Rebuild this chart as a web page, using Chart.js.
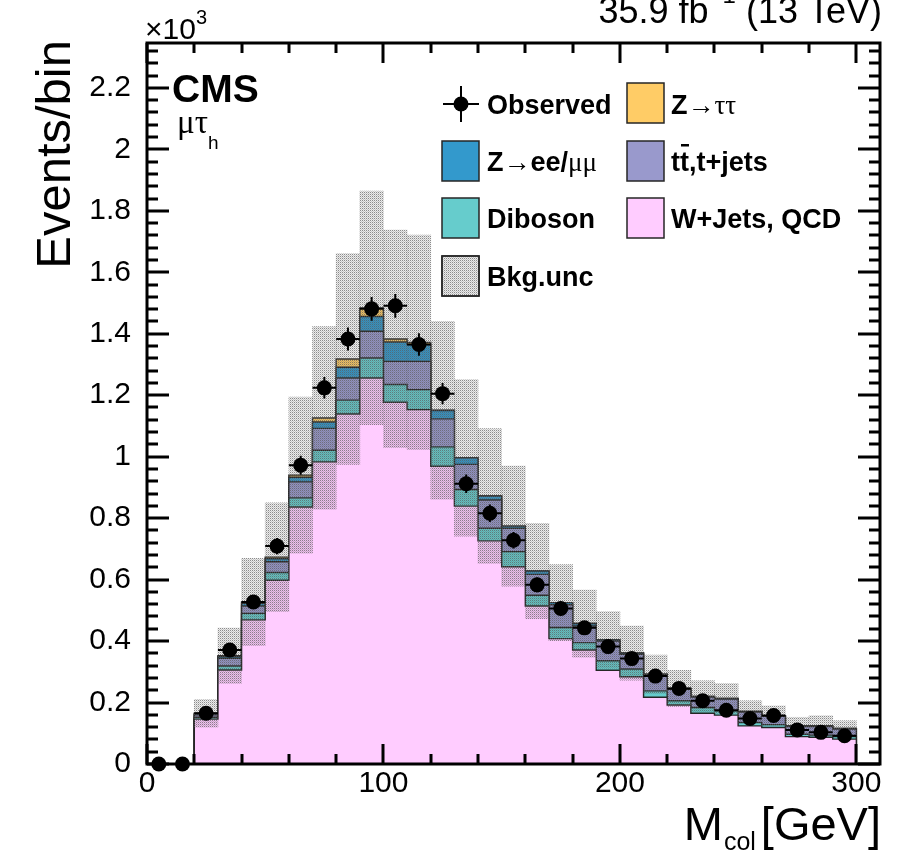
<!DOCTYPE html>
<html>
<head>
<meta charset="utf-8">
<title>M_col mu tau_h</title>
<script src="https://cdn.jsdelivr.net/npm/chart.js@4.4.1/dist/chart.umd.min.js"></script>
<style>
  html, body { margin: 0; padding: 0; background: #fff; }
  #chart { display: block; }
</style>
</head>
<body>
<canvas id="chart" width="911" height="851"></canvas>
<script>
// bins of 10 GeV, values are events per bin
var binWidth = 10;
var binCenters = [5, 15, 25, 35, 45, 55, 65, 75, 85, 95, 105, 115, 125, 135, 145,
                  155, 165, 175, 185, 195, 205, 215, 225, 235, 245, 255, 265, 275, 285, 295];
var observed  = [0, 0, 165, 371, 527, 709, 972, 1224, 1383, 1481, 1491, 1365, 1205, 912, 816,
                 728, 583, 506, 443, 382, 343, 286, 246, 206, 175, 148, 158, 111, 103, 92];
var wjetsQcd  = [0, 0, 146, 306, 469, 598, 836, 983, 1139, 1256, 1177, 1153, 969, 839, 726,
                 642, 514, 408, 371, 305, 284, 217, 192, 165, 159, 124, 119, 89, 87, 81];
var diboson   = [0, 0, 6, 13, 21, 25, 30, 38, 45, 65, 58, 65, 63, 54, 41,
                 49, 35, 36, 24, 31, 25, 21, 14, 19, 14, 11, 9, 8, 7, 8];
var ttbar     = [0, 0, 8, 25, 24, 35, 52, 71, 72, 87, 75, 92, 91, 82, 92,
                 76, 68, 74, 54, 64, 48, 51, 37, 34, 38, 34, 27, 25, 28, 25];
var zll       = [0, 0, 3, 6, 9, 10, 15, 21, 35, 48, 63, 55, 27, 21, 13,
                 7, 11, 7, 8, 4, 4, 3, 3, 2, 2, 2, 2, 2, 2, 2];
var ztautau   = [0, 0, 2, 2, 4, 5, 7, 13, 27, 28, 10, 7, 1, 0, 0,
                 0, 0, 0, 0, 0, 0, 0, 0, 0, 0, 0, 0, 0, 0, 0];
var bkgUnc    = [0, 0, 45, 90, 142, 177, 254, 297, 343, 380, 354, 349, 289, 255, 219,
                 195, 155, 124, 109, 92, 88, 62, 59, 51, 49, 35, 32, 28, 33, 25];
var xTickValues = [0, 100, 200, 300];
var yTickLabels = ['0', '0.2', '0.4', '0.6', '0.8', '1', '1.2', '1.4', '1.6', '1.8', '2', '2.2'];

var xMin = 0, xMax = 310, yMin = 0, yMax = 2346;

var colPink = '#ffccff', colTeal = '#66cccc', colPurple = '#9999cc',
    colBlue = '#3399cc', colOrange = '#ffcc66', lineCol = '#262626';
var sans = "'Liberation Sans', Arial, sans-serif";
var serif = "'Liberation Serif', 'DejaVu Serif', serif";

Chart.defaults.font.family = sans;
Chart.defaults.color = '#000';

var canvas = document.getElementById('chart');
var ctx = canvas.getContext('2d');

// translucent stipple for the uncertainty band
function makeHatch(c) {
    var p = document.createElement('canvas');
    p.width = 2; p.height = 2;
    var g = p.getContext('2d');
    g.fillStyle = 'rgba(90,90,90,0.12)';
    g.fillRect(1, 0, 1, 1);
    g.fillRect(0, 1, 1, 1);
    g.fillStyle = 'rgba(90,90,90,0.7)';
    g.fillRect(0, 0, 1, 1);
    g.fillStyle = 'rgba(90,90,90,0.35)';
    g.fillRect(1, 1, 1, 1);
    return c.createPattern(p, 'repeat');
}
var hatch = makeHatch(ctx);

function addArr(a, b) {
    return a.map(function(v, i) { return v + b[i]; });
}

// cumulative stack, bottom to top
var cum1 = wjetsQcd.slice();
var cum2 = addArr(cum1, diboson);
var cum3 = addArr(cum2, ttbar);
var cum4 = addArr(cum3, zll);
var cum5 = addArr(cum4, ztautau);

// step outline of a histogram (ROOT style), points on bin edges
function stepPoints(vals) {
    var first = -1, last = -1, i, pts = [];
    for (i = 0; i < vals.length; i++) {
        if (vals[i] > 0) { if (first < 0) first = i; last = i; }
    }
    pts.push({x: binCenters[first] - binWidth / 2, y: 0});
    for (i = first; i <= last; i++) {
        pts.push({x: binCenters[i] - binWidth / 2, y: vals[i]});
    }
    pts.push({x: binCenters[last] + binWidth / 2, y: vals[last]});
    pts.push({x: binCenters[last] + binWidth / 2, y: 0});
    return pts;
}

var bandData = [];
binCenters.forEach(function(c, i) {
    if (bkgUnc[i] > 0) bandData.push({x: c, y: [cum5[i] - bkgUnc[i], cum5[i] + bkgUnc[i]]});
});

function stackSet(label, vals, color, order) {
    return {
        type: 'line', label: label, data: stepPoints(vals), stepped: true,
        fill: 'origin', backgroundColor: color, borderColor: lineCol, borderWidth: 1.4,
        pointRadius: 0, pointHoverRadius: 0, tension: 0, order: order
    };
}

// error bars of the data points
var errorBars = {
    id: 'errorBars',
    afterDatasetsDraw: function(chart) {
        var xs = chart.scales.x, ys = chart.scales.y, c = chart.ctx;
        c.save();
        c.strokeStyle = '#000';
        c.lineWidth = 2;
        observed.forEach(function(v, i) {
            var x = xs.getPixelForValue(binCenters[i]);
            var y = ys.getPixelForValue(v);
            c.beginPath();
            c.moveTo(xs.getPixelForValue(binCenters[i] - binWidth / 2), y);
            c.lineTo(xs.getPixelForValue(binCenters[i] + binWidth / 2), y);
            if (v > 0) {
                var e = Math.sqrt(v);
                c.moveTo(x, ys.getPixelForValue(v - e));
                c.lineTo(x, ys.getPixelForValue(v + e));
            }
            c.stroke();
        });
        c.restore();
    }
};

// frame with inward ticks on all four sides
var frame = {
    id: 'frame',
    afterDraw: function(chart) {
        var a = chart.chartArea, xs = chart.scales.x, ys = chart.scales.y, c = chart.ctx, v, p, len;
        c.save();
        c.strokeStyle = '#000';
        c.lineWidth = 3;
        c.beginPath();
        for (v = 0; v <= yMax; v += 40) {
            p = Math.round(ys.getPixelForValue(v));
            len = (v % 200 === 0) ? 22 : 11;
            c.moveTo(a.left, p); c.lineTo(a.left + len, p);
            c.moveTo(a.right, p); c.lineTo(a.right - len, p);
        }
        for (v = 0; v <= xMax; v += 20) {
            p = Math.round(xs.getPixelForValue(v));
            len = (v % 100 === 0) ? 20 : 10;
            c.moveTo(p, a.bottom); c.lineTo(p, a.bottom - len);
            c.moveTo(p, a.top); c.lineTo(p, a.top + len);
        }
        c.stroke();
        c.strokeRect(a.left, a.top, a.right - a.left, a.bottom - a.top);
        c.restore();
    }
};

// draws pieces of text one after another: [text, font, dy]
function richText(c, x, y, parts) {
    parts.forEach(function(pt) {
        c.font = pt[1];
        c.fillText(pt[0], x, y + (pt[2] || 0));
        x += c.measureText(pt[0]).width;
    });
    return x;
}

var labels = {
    id: 'labels',
    afterDraw: function(chart) {
        var c = chart.ctx;
        c.save();
        c.fillStyle = '#000';
        c.textBaseline = 'alphabetic';
        c.textAlign = 'left';

        // top right lumi text, partly cut by the page edge
        c.font = '36px ' + sans;
        var w1 = c.measureText('35.9 fb').width;
        var w3 = c.measureText(' (13 TeV)').width;
        c.font = '24px ' + sans;
        var w2 = c.measureText('\u22121').width;
        richText(c, 882 - w1 - w2 - w3, 23, [
            ['35.9 fb', '36px ' + sans],
            ['\u22121', '24px ' + sans, -20],
            [' (13 TeV)', '36px ' + sans]
        ]);

        // exponent of the y axis
        richText(c, 145, 39, [['\u00d710', '30px ' + sans], ['3', '20px ' + sans, -15]]);

        // CMS label
        c.font = 'bold 39px ' + sans;
        c.fillText('CMS', 172, 102);
        richText(c, 177, 133, [['\u03bc\u03c4', '33px ' + serif], ['h', '19px ' + sans, 16]]);

        // y axis title
        c.save();
        c.translate(70, 40);
        c.rotate(-Math.PI / 2);
        c.textAlign = 'right';
        c.font = '49px ' + sans;
        c.fillText('Events/bin', 0, 0);
        c.restore();

        // x axis title
        c.font = '47px ' + sans;
        var gevW = c.measureText('[GeV]').width;
        var mW = c.measureText('M').width;
        c.font = '25px ' + sans;
        var colW = c.measureText('col').width;
        var gx = 881 - gevW;
        c.font = '47px ' + sans;
        c.fillText('[GeV]', gx, 840);
        c.fillText('M', gx - 6 - colW - mW, 840);
        c.font = '25px ' + sans;
        c.fillText('col', gx - 5 - colW, 850);

        // legend
        var bold = 'bold 27px ' + sans, sym = '27px ' + serif;
        c.strokeStyle = lineCol;
        c.lineWidth = 1.5;
        function box(x, y, fill) {
            c.fillStyle = fill;
            c.fillRect(x, y - 20, 37, 40);
            c.strokeRect(x, y - 20, 37, 40);
            c.fillStyle = '#000';
        }
        // observed marker
        c.strokeStyle = '#000';
        c.lineWidth = 2;
        c.beginPath();
        c.moveTo(443, 104); c.lineTo(479, 104);
        c.moveTo(461, 86); c.lineTo(461, 122);
        c.stroke();
        c.beginPath();
        c.arc(461, 104, 7.5, 0, Math.PI * 2);
        c.fill();
        c.strokeStyle = lineCol;
        c.lineWidth = 1.5;
        richText(c, 487, 114, [['Observed', bold]]);

        box(442, 161, colBlue);
        richText(c, 487, 171, [['Z', bold], ['\u2192', sym], ['ee/', bold], ['\u03bc\u03bc', sym]]);
        box(442, 218, colTeal);
        richText(c, 487, 228, [['Diboson', bold]]);
        box(442, 276, '#fff');
        box(442, 276, hatch);
        richText(c, 487, 286, [['Bkg.unc', bold]]);

        box(627, 103, colOrange);
        richText(c, 671, 114, [['Z', bold], ['\u2192\u03c4\u03c4', sym]]);
        box(627, 161, colPurple);
        c.font = bold;
        var tW = c.measureText('t').width;
        richText(c, 671, 171, [['tt,t+jets', bold]]);
        c.fillRect(671 + tW + 1, 144, tW - 1, 2.5);
        box(627, 218, colPink);
        richText(c, 671, 228, [['W+Jets, QCD', bold]]);

        c.restore();
    }
};

var chart = new Chart(ctx, {
    type: 'bar',
    data: {
        datasets: [
            {
                type: 'line', label: 'Observed',
                data: observed.map(function(v, i) { return {x: binCenters[i], y: v}; }),
                showLine: false, pointRadius: 7.5, pointHoverRadius: 7.5,
                pointBackgroundColor: '#000', pointBorderWidth: 0, clip: false, order: 0
            },
            {
                type: 'bar', label: 'Bkg.unc', data: bandData,
                backgroundColor: hatch, borderWidth: 0, grouped: false,
                barPercentage: 1, categoryPercentage: 1, order: 1
            },
            stackSet('W+Jets, QCD', cum1, colPink, 2),
            stackSet('Diboson', cum2, colTeal, 3),
            stackSet('tt,t+jets', cum3, colPurple, 4),
            stackSet('Z->ee/mumu', cum4, colBlue, 5),
            stackSet('Z->tautau', cum5, colOrange, 6)
        ]
    },
    options: {
        responsive: false,
        animation: false,
        devicePixelRatio: 1,
        events: [],
        layout: { padding: { top: 43, right: 31, left: 0, bottom: 0 } },
        plugins: {
            legend: { display: false },
            tooltip: { enabled: false },
            title: { display: false }
        },
        scales: {
            x: {
                type: 'linear', min: xMin, max: xMax, offset: false,
                grid: { display: false, drawTicks: false, offset: false },
                border: { display: false },
                ticks: {
                    autoSkip: false, maxRotation: 0,
                    padding: 2, font: { size: 30 }, color: '#000'
                },
                afterBuildTicks: function(s) {
                    s.ticks = xTickValues.map(function(v) { return {value: v}; });
                },
                afterFit: function(s) { s.height = 87; }
            },
            y: {
                type: 'linear', min: yMin, max: yMax,
                grid: { display: false, drawTicks: false },
                border: { display: false },
                ticks: {
                    autoSkip: false, padding: 16, font: { size: 30 }, color: '#000',
                    callback: function(v, i) { return yTickLabels[i]; }
                },
                afterBuildTicks: function(s) {
                    s.ticks = yTickLabels.map(function(t) { return {value: parseFloat(t) * 1000}; });
                },
                afterFit: function(s) { s.width = 147; }
            }
        }
    },
    plugins: [errorBars, frame, labels]
});
</script>
</body>
</html>
